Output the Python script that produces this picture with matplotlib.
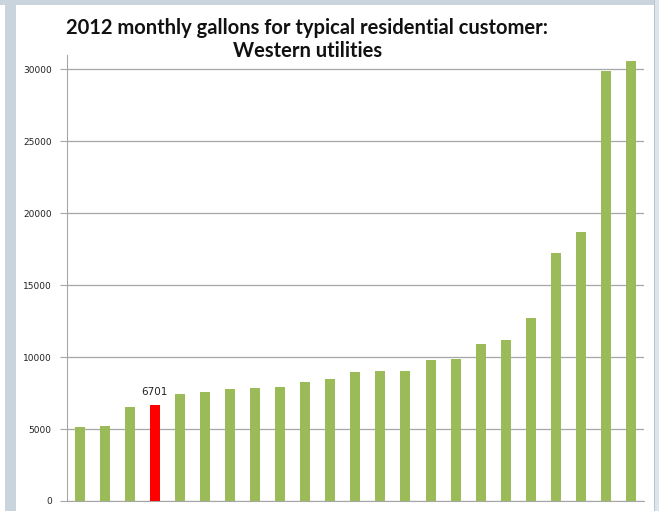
import matplotlib.pyplot as plt
from matplotlib.patches import Rectangle

# Monthly gallons, sorted ascending; the highlighted utility is index 3
gallons = [5150, 5200, 6500, 6701, 7450, 7600, 7750, 7850, 7900, 8300, 8500,
           8950, 9000, 9000, 9800, 9900, 10900, 11200, 12700, 17200, 18700,
           29900, 30600]
highlight = 3
y_ticks = [0, 5000, 10000, 15000, 20000, 25000, 30000]

green = "#9bbb59"
red = "#ff0000"

fig = plt.figure(figsize=(6.59, 5.11), dpi=100)
fig.patch.set_facecolor("white")

# window-like frame around the chart
frame = "#c9d4dd"
edge = "#b8c4ce"
fig.patches.append(Rectangle((0.008, 0), 0.016, 1, transform=fig.transFigure,
                             facecolor=frame, edgecolor="none"))
fig.patches.append(Rectangle((0, 0.99), 1, 0.01, transform=fig.transFigure,
                             facecolor=frame, edgecolor="none"))
fig.patches.append(Rectangle((0.9925, 0), 0.0075, 1, transform=fig.transFigure,
                             facecolor="#dde4ea", edgecolor="none"))
fig.patches.append(Rectangle((0.9925, 0), 0.002, 1, transform=fig.transFigure,
                             facecolor=edge, edgecolor="none"))

ax = fig.add_axes([0.1017, 0.0196, 0.875, 0.873])

x = list(range(len(gallons)))
colors = [red if i == highlight else green for i in x]
ax.bar(x, gallons, width=0.4, color=colors, zorder=3)

ax.text(highlight, gallons[highlight] + 500, str(gallons[highlight]),
        ha="center", va="bottom", fontsize=7.5, family="DejaVu Sans",
        color="#222222")

ax.set_xlim(-0.5, len(gallons) - 0.5)
ax.set_ylim(0, 31000)
ax.set_yticks(y_ticks)
ax.set_yticklabels([str(v) for v in y_ticks], fontsize=6.5, color="#222222")
ax.set_xticks([])
ax.grid(axis="y", color="#a6a6a6", linewidth=0.9, zorder=0)
ax.tick_params(axis="y", length=5, width=0.8, color="#a6a6a6", pad=6)

for side in ["top", "right"]:
    ax.spines[side].set_visible(False)
ax.spines["left"].set_color("#a6a6a6")
ax.spines["bottom"].set_color("#a6a6a6")

fig.text(0.466, 0.945, "2012 monthly gallons for typical residential customer:",
         ha="center", va="center", fontsize=14.5, fontweight="bold",
         family="Lato", color="#111111")
fig.text(0.466, 0.9, "Western utilities",
         ha="center", va="center", fontsize=14.5, fontweight="bold",
         family="Lato", color="#111111")

fig.savefig("out.png", dpi=100)
